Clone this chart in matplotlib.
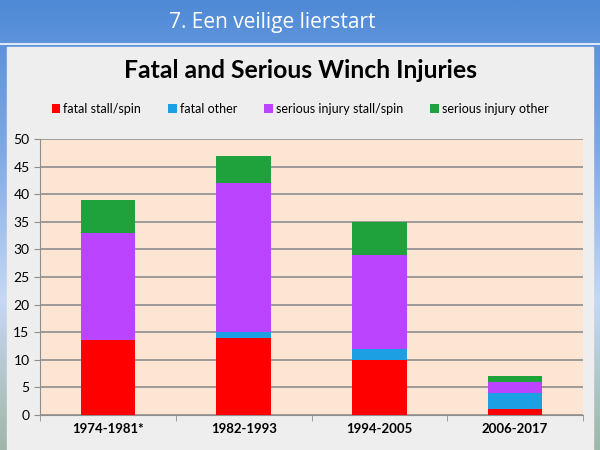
import matplotlib.pyplot as plt
import numpy as np
from matplotlib.patches import Rectangle

# data
periodes = ['1974-1981*', '1982-1993', '1994-2005', '2006-2017']
fatal_stall = [13.5, 14, 10, 1]
fatal_other = [0, 1, 2, 3]
serious_stall = [19.5, 27, 17, 2]
serious_other = [6, 5, 6, 1]
series = [
    ('fatal stall/spin', fatal_stall, '#FF0000'),
    ('fatal other', fatal_other, '#1CA0E3'),
    ('serious injury stall/spin', serious_stall, '#BB44FF'),
    ('serious injury other', serious_other, '#1FA23C'),
]

plt.rcParams['font.family'] = ['Lato', 'DejaVu Sans']

fig = plt.figure(figsize=(6, 4.5), dpi=100)

# slide background
bg = fig.add_axes([0, 0, 1, 1], zorder=-10)
grad = np.linspace(0, 1, 256).reshape(-1, 1)
bg.imshow(grad, aspect='auto', cmap=plt.matplotlib.colors.LinearSegmentedColormap.from_list(
    'slide', ['#4F8AD6', '#7FA9E6', '#C6D8F4', '#9FB7A8']), extent=[0, 1, 0, 1])
bg.add_patch(Rectangle((0.012, 0), 0.976, 0.895, color='#EEEEEE', transform=bg.transAxes))
bg.axhline(0.902, color='#DDE7F6', lw=1.5)
bg.set_xlim(0, 1)
bg.set_ylim(0, 1)
bg.axis('off')

fig.text(0.453, 0.949, '7. Een veilige lierstart', color='white', fontsize=15,
         ha='center', va='center', family=['Open Sans', 'DejaVu Sans'])
fig.text(0.5, 0.844, 'Fatal and Serious Winch Injuries', fontsize=17.8,
         fontweight='bold', ha='center', va='center')

ax = fig.add_axes([0.0667, 0.078, 0.905, 0.613])
ax.set_facecolor('#FDE5D3')
x = np.arange(len(periodes))
bottom = np.zeros(len(periodes))
for naam, vals, kleur in series:
    ax.bar(x, vals, 0.4, bottom=bottom, color=kleur, label=naam, zorder=3)
    bottom += np.array(vals)

ax.set_xlim(-0.5, 3.5)
ax.set_ylim(0, 50)
ax.set_yticks(range(0, 51, 5))
ax.yaxis.grid(True, color='#8E8E8E', lw=1.2, zorder=1)
ax.set_xticks(x)
ax.set_xticklabels(periodes, fontweight='bold', fontsize=9.5)
ax.set_xticks(np.arange(-0.5, 4, 1), minor=True)
ax.tick_params(axis='x', which='major', length=0, pad=6)
ax.tick_params(axis='x', which='minor', length=4, color='#8E8E8E')
ax.tick_params(axis='y', labelsize=10, length=4, color='#8E8E8E')
for kant in ['top', 'right']:
    ax.spines[kant].set_visible(False)
ax.spines['left'].set_color('#8E8E8E')
ax.spines['bottom'].set_color('#8E8E8E')

fig.legend(loc='center', bbox_to_anchor=(0.5, 0.758), ncol=4, frameon=False,
           fontsize=9, handlelength=0.7, handleheight=0.7, handletextpad=0.2,
           columnspacing=2.2)

fig.savefig('out.png', dpi=100, facecolor=fig.get_facecolor())
